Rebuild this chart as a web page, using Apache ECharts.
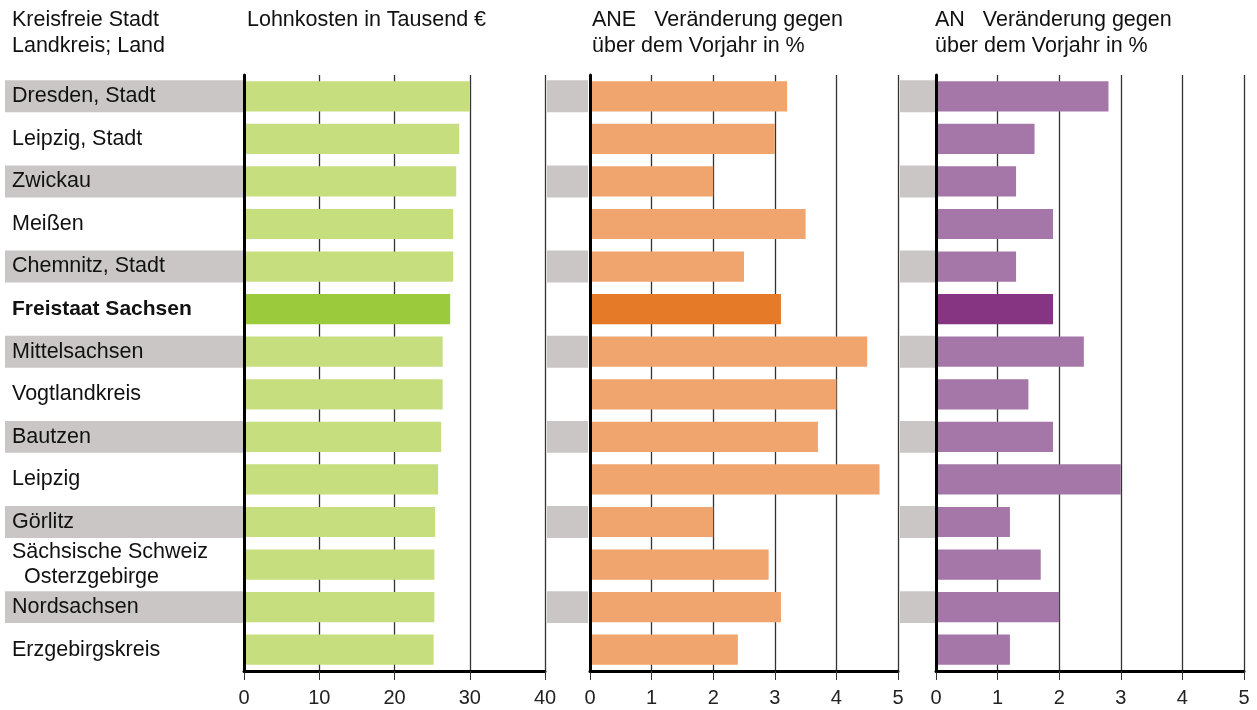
<!DOCTYPE html>
<html>
<head>
<meta charset="utf-8">
<script src="https://cdn.jsdelivr.net/npm/echarts@6/dist/echarts.min.js"></script>
<style>html,body{margin:0;padding:0;background:#fff}#c{width:1257px;height:710px}</style>
</head>
<body>
<div id="c"></div>
<script>
const categories = ["Dresden, Stadt","Leipzig, Stadt","Zwickau","Meißen","Chemnitz, Stadt","Freistaat Sachsen","Mittelsachsen","Vogtlandkreis","Bautzen","Leipzig","Görlitz","Sächsische Schweiz\n  Osterzgebirge","Nordsachsen","Erzgebirgskreis"];
const lohnkosten = [30.0, 28.6, 28.2, 27.8, 27.8, 27.4, 26.4, 26.4, 26.2, 25.8, 25.4, 25.3, 25.3, 25.2];
const aneChange = [3.2, 3.0, 2.0, 3.5, 2.5, 3.1, 4.5, 4.0, 3.7, 4.7, 2.0, 2.9, 3.1, 2.4];
const anChange = [2.8, 1.6, 1.3, 1.9, 1.3, 1.9, 2.4, 1.5, 1.9, 3.0, 1.2, 1.7, 2.0, 1.2];
const ticks1 = [0, 10, 20, 30, 40];
const ticks2 = [0, 1, 2, 3, 4, 5];
const highlight = "Freistaat Sachsen";
const headers = {
  label: "Kreisfreie Stadt\nLandkreis; Land",
  p1: "Lohnkosten in Tausend €",
  p2: "ANE   Veränderung gegen\nüber dem Vorjahr in %",
  p3: "AN   Veränderung gegen\nüber dem Vorjahr in %"
};

const FONT = "Liberation Sans, Arial, sans-serif";
const FS = 21.5;
const TOP = 75, BOTTOM = 39;
const bandData = categories.map((c, i) => i % 2 === 0 ? 1 : 0);

function colored(vals, light, dark) {
  return vals.map((v, i) => ({ value: v, itemStyle: { color: categories[i] === highlight ? dark : light } }));
}
function catAxis(gi, showLine) {
  return {
    type: 'category', gridIndex: gi, data: categories, inverse: true, z: 10,
    axisLine: { show: showLine, lineStyle: { color: '#000', width: 3 } },
    axisTick: { show: false }, axisLabel: { show: false }, splitLine: { show: false }
  };
}
function valAxis(gi, max, interval) {
  return {
    type: 'value', gridIndex: gi, min: 0, max: max, interval: interval, z: 0,
    axisLine: { show: true, onZero: false, lineStyle: { color: '#000', width: 3 } },
    axisTick: { show: true, length: 9, lineStyle: { color: '#333', width: 1 } },
    axisLabel: { color: '#222', fontSize: 20, fontFamily: FONT, margin: 17 },
    splitLine: { show: true, lineStyle: { color: '#333', width: 1.3 } }
  };
}

const grids = [
  { left: 5, width: 238, top: TOP, bottom: BOTTOM },
  { left: 244, width: 301, top: TOP, bottom: BOTTOM },
  { left: 547, width: 41, top: TOP, bottom: BOTTOM },
  { left: 590, width: 308, top: TOP, bottom: BOTTOM },
  { left: 900, width: 35, top: TOP, bottom: BOTTOM },
  { left: 936, width: 308, top: TOP, bottom: BOTTOM }
];

const labelAxis = {
  type: 'category', gridIndex: 0, data: categories, inverse: true, z: 10,
  axisLine: { show: false }, axisTick: { show: false },
  axisLabel: {
    inside: true, margin: 7, align: 'left', color: '#111', fontSize: FS, fontFamily: FONT,
    lineHeight: 25,
    formatter: function (v) { return v === highlight ? '{b|' + v + '}' : v; },
    rich: { b: { fontWeight: 'bold', fontSize: FS - 0.5, fontFamily: FONT, color: '#111' } }
  }
};

const option = {
  animation: false,
  backgroundColor: '#fff',
  grid: grids,
  xAxis: [
    { type: 'value', gridIndex: 0, min: 0, max: 1, show: false },
    valAxis(1, 40, 10),
    { type: 'value', gridIndex: 2, min: 0, max: 1, show: false },
    valAxis(3, 5, 1),
    { type: 'value', gridIndex: 4, min: 0, max: 1, show: false },
    valAxis(5, 5, 1)
  ],
  yAxis: [
    labelAxis,
    catAxis(1, true),
    catAxis(2, false),
    catAxis(3, true),
    catAxis(4, false),
    catAxis(5, true)
  ],
  graphic: [
    { type: 'text', left: 12, top: 7, style: { text: headers.label, font: FS + 'px ' + FONT, fill: '#111', lineHeight: 26 } },
    { type: 'text', left: 247, top: 7, style: { text: headers.p1, font: FS + 'px ' + FONT, fill: '#111', lineHeight: 26 } },
    { type: 'text', left: 592, top: 7, style: { text: headers.p2, font: FS + 'px ' + FONT, fill: '#111', lineHeight: 26 } },
    { type: 'text', left: 935, top: 7, style: { text: headers.p3, font: FS + 'px ' + FONT, fill: '#111', lineHeight: 26 } }
  ],
  series: [
    { type: 'bar', xAxisIndex: 0, yAxisIndex: 0, data: bandData, barCategoryGap: '25%', itemStyle: { color: '#CAC6C6' }, silent: true, z: 1 },
    { type: 'bar', xAxisIndex: 2, yAxisIndex: 2, data: bandData, barCategoryGap: '25%', itemStyle: { color: '#CAC6C6' }, silent: true, z: 1 },
    { type: 'bar', xAxisIndex: 4, yAxisIndex: 4, data: bandData, barCategoryGap: '25%', itemStyle: { color: '#CAC6C6' }, silent: true, z: 1 },
    { type: 'bar', xAxisIndex: 1, yAxisIndex: 1, data: colored(lohnkosten, '#C6DE7D', '#9BCB3D'), barCategoryGap: '29%', z: 3 },
    { type: 'bar', xAxisIndex: 3, yAxisIndex: 3, data: colored(aneChange, '#F0A46E', '#E57A28'), barCategoryGap: '29%', z: 3 },
    { type: 'bar', xAxisIndex: 5, yAxisIndex: 5, data: colored(anChange, '#A577A9', '#853581'), barCategoryGap: '29%', z: 3 }
  ]
};
const chart = echarts.init(document.getElementById('c'), null, { renderer: 'canvas' });
chart.setOption(option);
</script>
</body>
</html>
